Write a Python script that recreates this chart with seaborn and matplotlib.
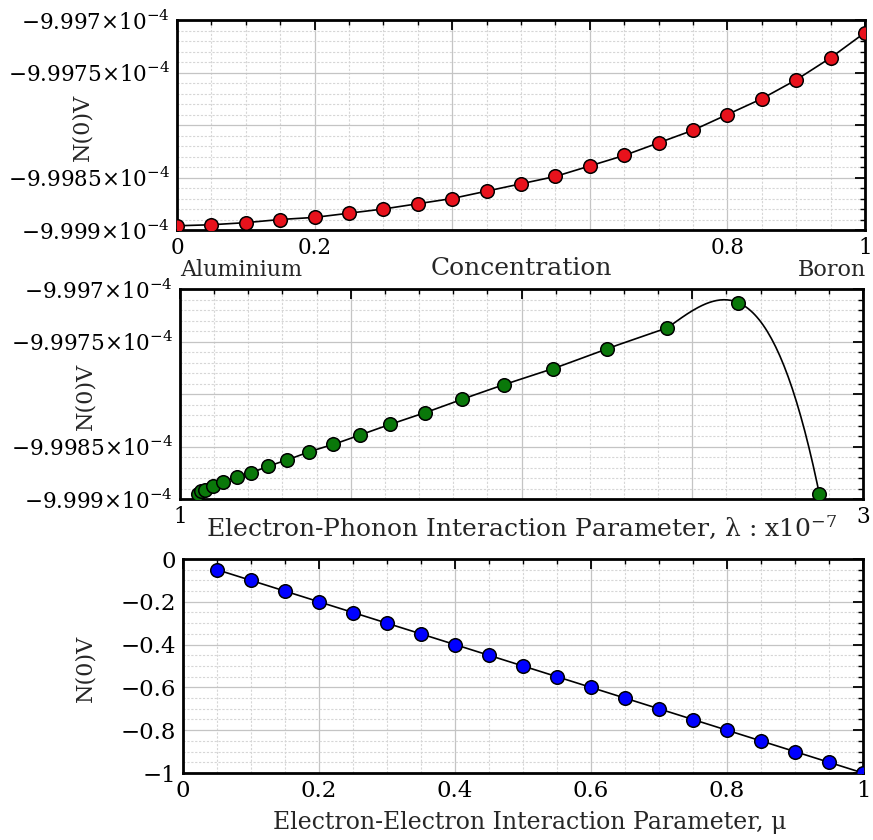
import numpy as np
import matplotlib
matplotlib.use("Agg")
import matplotlib.pyplot as plt
import seaborn as sns
from matplotlib.ticker import FixedLocator

# data
conc = [0.0, 0.05, 0.1, 0.15, 0.2, 0.25, 0.3, 0.35, 0.4, 0.45, 0.5,
        0.55, 0.6, 0.65, 0.7, 0.75, 0.8, 0.85, 0.9, 0.95, 1.0]
nv_conc = [-9.99896e-4, -9.99895e-4, -9.99893e-4, -9.99890e-4, -9.99888e-4,
           -9.99884e-4, -9.99880e-4, -9.99875e-4, -9.99870e-4, -9.99863e-4,
           -9.99856e-4, -9.99849e-4, -9.99839e-4, -9.99829e-4, -9.99817e-4,
           -9.99805e-4, -9.99790e-4, -9.99775e-4, -9.99757e-4, -9.99736e-4,
           -9.99712e-4]

lam = [1.0536, 1.0615, 1.0732, 1.0975, 1.1268, 1.1660, 1.2079, 1.2568, 1.3124,
       1.3786, 1.4489, 1.5271, 1.6149, 1.7160, 1.8264, 1.9496, 2.0914, 2.2495,
       2.4269, 2.6348, 2.8720]
nv_lam = [-9.99895e-4, -9.99892e-4, -9.99891e-4, -9.99888e-4, -9.99884e-4,
          -9.99879e-4, -9.99875e-4, -9.99869e-4, -9.99863e-4, -9.99855e-4,
          -9.99848e-4, -9.99839e-4, -9.99829e-4, -9.99818e-4, -9.99805e-4,
          -9.99791e-4, -9.99776e-4, -9.99757e-4, -9.99737e-4, -9.99713e-4,
          -9.99895e-4]

mu = [0.05, 0.1, 0.15, 0.2, 0.25, 0.3, 0.35, 0.4, 0.45, 0.5,
      0.55, 0.6, 0.65, 0.7, 0.75, 0.8, 0.85, 0.9, 0.95, 1.0]
nv_mu = [-0.05, -0.1, -0.15, -0.2, -0.25, -0.3, -0.35, -0.4, -0.45, -0.5,
         -0.55, -0.6, -0.65, -0.7, -0.75, -0.8, -0.85, -0.9, -0.95, -1.0]

small_ticks = [-9.999e-4, -9.9985e-4, -9.998e-4, -9.9975e-4, -9.997e-4]
small_labels = [r'$-9.999{\times}10^{-4}$', r'$-9.9985{\times}10^{-4}$', '',
                r'$-9.9975{\times}10^{-4}$', r'$-9.997{\times}10^{-4}$']


def local_cubic(x, y, per_seg=40):
    # joining curve: each interval drawn with the cubic through its 4 neighbours
    x = np.asarray(x, float)
    y = np.asarray(y, float)
    y0, sc = y.mean(), np.ptp(y)
    m = len(x)
    xs_all, ys_all = [], []
    for k in range(m - 1):
        j = int(np.clip(k - 1, 0, m - 4))
        xw = x[j:j + 4]
        yw = (y[j:j + 4] - y0) / sc
        p = np.polyfit(xw - xw.mean(), yw, 3)
        xs = np.linspace(x[k], x[k + 1], per_seg)
        ys = np.polyval(p, xs - xw.mean()) * sc + y0
        xs_all.append(xs)
        ys_all.append(ys)
    return np.concatenate(xs_all), np.concatenate(ys_all)


sns.set_style("white")
plt.rcParams['font.family'] = ['DejaVu Serif']
plt.rcParams['mathtext.fontset'] = 'dejavuserif'

fig = plt.figure(figsize=(8.73, 8.40), dpi=100)
ax1 = fig.add_axes([177 / 873, 1 - 230 / 840, 688 / 873, 210 / 840])
ax2 = fig.add_axes([180 / 873, 1 - 499 / 840, 683 / 873, 210 / 840])
ax3 = fig.add_axes([183 / 873, 1 - 773 / 840, 680 / 873, 214 / 840])


def style(ax):
    for s in ax.spines.values():
        s.set_linewidth(2.0)
        s.set_color('black')
    ax.tick_params(which='both', direction='in', top=True, right=True,
                   labelsize=15.5, pad=5, colors='black')
    ax.tick_params(which='major', length=7, width=1.3)
    ax.tick_params(which='minor', length=3.5, width=1.0)
    ax.grid(True, which='major', color='#c4c4c4', lw=0.9, ls='-')
    ax.grid(True, which='minor', color='#d6d6d6', lw=0.8, ls=(0, (2, 1.5)))
    ax.set_axisbelow(True)


# top panel: concentration
sns.lineplot(x=conc, y=nv_conc, ax=ax1, color='black', lw=1.2,
             sort=False, estimator=None)
sns.scatterplot(x=conc, y=nv_conc, ax=ax1, color='#e8121c', edgecolor='black',
                linewidth=1.1, s=95, zorder=3)
ax1.set_xlim(0, 1)
ax1.set_ylim(-9.999e-4, -9.997e-4)
ax1.set_xticks([0, 0.2, 0.4, 0.6, 0.8, 1.0])
ax1.set_xticklabels(['0', '0.2', '', '', '0.8', '1'])
ax1.xaxis.set_minor_locator(FixedLocator(np.arange(0, 1.001, 0.05)))
ax1.set_yticks(small_ticks)
ax1.set_yticklabels(small_labels)
ax1.yaxis.set_minor_locator(FixedLocator(np.linspace(-9.999e-4, -9.997e-4, 21)))
style(ax1)
ax1.set_xlabel('Concentration', fontsize=18, va='center')
ax1.xaxis.set_label_coords(0.5, -0.181)
ax1.text(0.004, -0.19, 'Aluminium', transform=ax1.transAxes, ha='left',
         va='center', fontsize=16)
ax1.text(1.002, -0.19, 'Boron', transform=ax1.transAxes, ha='right',
         va='center', fontsize=16)

# middle panel: electron-phonon parameter
order = np.argsort(lam)
xs, ys = local_cubic(np.asarray(lam)[order], np.asarray(nv_lam)[order])
sns.lineplot(x=xs, y=ys, ax=ax2, color='black', lw=1.2, sort=False,
             estimator=None)
sns.scatterplot(x=lam, y=nv_lam, ax=ax2, color='#0a780a', edgecolor='black',
                linewidth=1.1, s=95, zorder=3)
ax2.set_xlim(1, 3)
ax2.set_ylim(-9.999e-4, -9.997e-4)
ax2.set_xticks([1, 1.5, 2, 2.5, 3])
ax2.set_xticklabels(['1', '', '', '', '3'])
ax2.xaxis.set_minor_locator(FixedLocator(np.arange(1, 3.001, 0.1)))
ax2.set_yticks(small_ticks)
ax2.set_yticklabels(small_labels)
ax2.yaxis.set_minor_locator(FixedLocator(np.linspace(-9.999e-4, -9.997e-4, 21)))
style(ax2)
ax2.set_xlabel(r'Electron-Phonon Interaction Parameter, λ : x10$^{-7}$',
               fontsize=18, va='center')
ax2.xaxis.set_label_coords(0.5, -0.133)

# bottom panel: electron-electron parameter
sns.lineplot(x=mu, y=nv_mu, ax=ax3, color='black', lw=1.2, sort=False,
             estimator=None)
sns.scatterplot(x=mu, y=nv_mu, ax=ax3, color='#0000ff', edgecolor='black',
                linewidth=1.1, s=95, zorder=3)
ax3.set_xlim(0, 1)
ax3.set_ylim(-1, 0)
ax3.set_xticks([0, 0.2, 0.4, 0.6, 0.8, 1.0])
ax3.set_xticklabels(['0', '0.2', '0.4', '0.6', '0.8', '1'])
ax3.xaxis.set_minor_locator(FixedLocator(np.arange(0, 1.001, 0.05)))
ax3.set_yticks([-1, -0.8, -0.6, -0.4, -0.2, 0])
ax3.set_yticklabels(['\u22121', '\u22120.8', '\u22120.6', '\u22120.4', '\u22120.2', '0'])
ax3.yaxis.set_minor_locator(FixedLocator(np.arange(-1, 0.001, 0.05)))
style(ax3)
ax3.tick_params(axis='both', labelsize=16.5)
ax3.set_xlabel('Electron-Electron Interaction Parameter, μ', fontsize=17,
               va='center')
ax3.xaxis.set_label_coords(0.51, -0.229)

for ax, xc in [(ax1, -0.137), (ax2, -0.139), (ax3, -0.143)]:
    ax.set_ylabel('N(0)V', fontsize=16, va='center')
    ax.yaxis.set_label_coords(xc, 0.49)

fig.savefig('out.png', dpi=100)
